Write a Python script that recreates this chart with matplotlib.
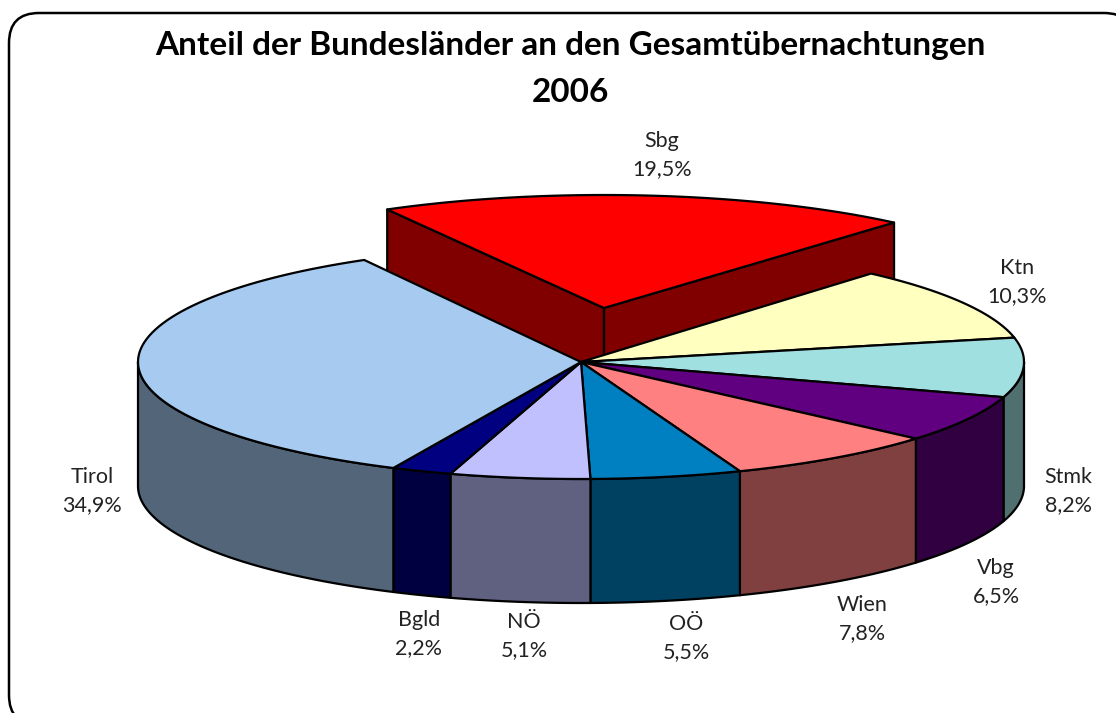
import numpy as np
import matplotlib
matplotlib.use('Agg')
import matplotlib.pyplot as plt
from matplotlib.patches import FancyBboxPatch, Polygon

# --- Data ---
regions = ['Sbg', 'Ktn', 'Stmk', 'Vbg', 'Wien', 'OÖ', 'NÖ', 'Bgld', 'Tirol']
shares = [19.5, 10.3, 8.2, 6.5, 7.8, 5.5, 5.1, 2.2, 34.9]
top_colors = ['#FF0000', '#FFFFC0', '#A0E0E0', '#600080', '#FF8080',
              '#0080C0', '#C0C0FF', '#000080', '#A6CAF0']
side_colors = ['#800000', '#808060', '#507070', '#300040', '#804040',
               '#004060', '#606080', '#000040', '#536578']

# --- Pie geometry (pixels) ---
cx, cy = 581, 362
rx, ry = 443, 117
depth = 124
start_angle = 119.3
explode_dx, explode_dy = 23, -54
explode_ry = 113

# label centres, same order as regions
label_x = [662, 1017, 1068, 996, 862, 686, 524, 419, 92]
label_y = [155, 282, 491, 582, 619, 638, 636, 634, 491]

fig = plt.figure(figsize=(11.16, 7.13), dpi=100)
ax = fig.add_axes([0, 0, 1, 1])
ax.set_xlim(0, 1116)
ax.set_ylim(713, 0)
ax.axis('off')

# Rounded chart frame, runs off the right and bottom edges of the picture
ax.add_patch(FancyBboxPatch((9, 13), 1125, 712,
                            boxstyle='round,pad=0,rounding_size=30',
                            fc='white', ec='black', lw=1.8))


def rim(a0, a1, ox=0, oy=0, ry_=ry):
    t = np.radians(np.linspace(a0, a1, 80))
    return np.column_stack([cx + ox + rx * np.cos(t), cy + oy - ry_ * np.sin(t)])


def draw_wall(pts, color):
    lower = pts[::-1] + [0, depth]
    ax.add_patch(Polygon(np.vstack([pts, lower]), closed=True, fc=color,
                         ec='black', lw=1.6, joinstyle='round'))


# Angles: clockwise from the start angle
edges = start_angle - np.cumsum([0] + shares) * 3.6

# Exploded slice first, everything else paints over it
apex = np.array([[cx + explode_dx, cy + explode_dy]])
arc = rim(edges[0], edges[1], explode_dx, explode_dy, explode_ry)
draw_wall(np.vstack([arc[:1], apex]), side_colors[0])
draw_wall(np.vstack([apex, arc[-1:]]), side_colors[0])
ax.add_patch(Polygon(np.vstack([apex, arc]), closed=True, fc=top_colors[0],
                     ec='black', lw=1.6, joinstyle='round'))

# Outer walls of the front half
for i in range(1, len(shares)):
    lo = max(edges[i + 1], -180)
    hi = min(edges[i], 0)
    if hi > lo:
        draw_wall(rim(hi, lo), side_colors[i])

# Top faces
centre = np.array([[cx, cy]])
for i in range(1, len(shares)):
    ax.add_patch(Polygon(np.vstack([centre, rim(edges[i], edges[i + 1])]),
                         closed=True, fc=top_colors[i], ec='black', lw=1.6,
                         joinstyle='round'))

# Title
ax.text(570, 46, 'Anteil der Bundesländer an den Gesamtübernachtungen',
        ha='center', va='center', fontsize=24, fontweight='bold',
        family='Lato', color='black')
ax.text(570, 93, '2006', ha='center', va='center', fontsize=24,
        fontweight='bold', family='Lato', color='black')

# Labels
for name, val, x, y in zip(regions, shares, label_x, label_y):
    txt = f'{name}\n{val:.1f}%'.replace('.', ',')
    ax.text(x, y, txt, ha='center', va='center', fontsize=15.5, family='Lato',
            color='#222222', linespacing=1.55)

fig.savefig('out.png', dpi=100)
